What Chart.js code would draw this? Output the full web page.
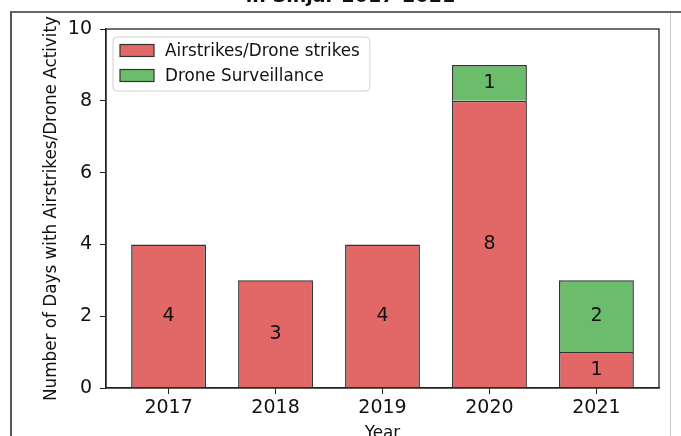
<!DOCTYPE html>
<html>
<head>
<meta charset="utf-8">
<script src="https://cdn.jsdelivr.net/npm/chart.js@4"></script>
<style>
  html, body { margin: 0; padding: 0; background: #fff; }
  #wrap { position: relative; width: 681px; height: 436px; overflow: hidden; background: #fff; }
  #wrap canvas { position: absolute; left: 0; top: -20px; }
  #frame { position: absolute; left: 10px; top: 11px; right: 0; bottom: 0;
           border-top: 2px solid #666; border-left: 2px solid #555; pointer-events: none; }
  #edge { position: absolute; left: 670px; top: 13px; bottom: 0; width: 1px; background: #ccc; pointer-events: none; }
</style>
</head>
<body>
<div id="wrap">
  <canvas id="chart" width="681" height="470"></canvas>
  <div id="frame"></div>
  <div id="edge"></div>
</div>
<script>
// data
const years = ['2017', '2018', '2019', '2020', '2021'];
const airstrikes = [4, 3, 4, 8, 1];
const surveillance = [0, 0, 0, 1, 2];
const yTicks = [0, 2, 4, 6, 8, 10];

const FONT = "'DejaVu Sans', sans-serif";
const RED = '#e26868';
const GREEN = '#6bbc6b';
const EDGE = '#333333';

// bar segment values in the middle of each block
const valueLabels = {
    id: 'valueLabels',
    afterDatasetsDraw(chart) {
        const ctx = chart.ctx;
        ctx.save();
        ctx.font = '19px ' + FONT;
        ctx.fillStyle = '#111';
        ctx.textAlign = 'center';
        ctx.textBaseline = 'middle';
        chart.data.datasets.forEach((ds, di) => {
            chart.getDatasetMeta(di).data.forEach((bar, i) => {
                const v = ds.data[i].y;
                if (!v) return;
                ctx.fillText(String(v), bar.x, (bar.y + bar.base) / 2);
            });
        });
        ctx.restore();
    }
};

// full box round the plot + matplotlib style legend
const frameLegend = {
    id: 'frameLegend',
    afterDraw(chart) {
        const ctx = chart.ctx;
        const a = chart.chartArea;
        ctx.save();
        ctx.strokeStyle = '#222';
        ctx.lineWidth = 1.3;
        ctx.strokeRect(a.left, a.top, a.right - a.left, a.bottom - a.top);

        ctx.font = '16.8px ' + FONT;
        const labels = chart.data.datasets.map(d => d.label);
        const tw = Math.max(...labels.map(t => ctx.measureText(t).width));
        const bx = a.left + 7, by = a.top + 8;
        const bw = 54 + tw + 8, bh = 54;
        ctx.beginPath();
        ctx.roundRect(bx, by, bw, bh, 4);
        ctx.fillStyle = 'rgba(255,255,255,0.8)';
        ctx.fill();
        ctx.strokeStyle = '#d0d0d0';
        ctx.lineWidth = 1;
        ctx.stroke();

        ctx.textBaseline = 'middle';
        chart.data.datasets.forEach((ds, i) => {
            const cy = by + 13.5 + i * 25;
            ctx.fillStyle = ds.backgroundColor;
            ctx.fillRect(bx + 7, cy - 6, 34, 12);
            ctx.strokeStyle = ds.borderColor;
            ctx.lineWidth = 1.2;
            ctx.strokeRect(bx + 7, cy - 6, 34, 12);
            ctx.fillStyle = '#111';
            ctx.fillText(ds.label, bx + 52, cy + 1);
        });
        ctx.restore();
    }
};

new Chart(document.getElementById('chart'), {
    type: 'bar',
    data: {
        datasets: [
            {
                label: 'Airstrikes/Drone strikes',
                data: airstrikes.map((v, i) => ({ x: i, y: v })),
                backgroundColor: RED,
                borderColor: EDGE,
                borderWidth: 1.5
            },
            {
                label: 'Drone Surveillance',
                data: surveillance.map((v, i) => ({ x: i, y: v })),
                backgroundColor: GREEN,
                borderColor: EDGE,
                borderWidth: 1.5
            }
        ]
    },
    options: {
        responsive: false,
        animation: false,
        categoryPercentage: 1,
        barPercentage: 0.7,
        layout: { padding: { top: 5.6, left: 42, right: 22, bottom: 0 } },
        plugins: {
            legend: { display: false },
            tooltip: { enabled: false },
            title: {
                display: true,
                text: 'in Sinjar 2017-2021',
                color: '#111',
                font: { family: FONT, size: 19, weight: 'bold' },
                padding: { top: 0, bottom: 20.6 }
            }
        },
        scales: {
            x: {
                type: 'linear',
                stacked: true,
                offset: false,
                min: -0.585,
                max: 4.585,
                afterBuildTicks: s => { s.ticks = years.map((_, i) => ({ value: i })); },
                afterFit: s => { s.height = 62; },
                ticks: {
                    callback: v => years[v],
                    color: '#111',
                    font: { family: FONT, size: 19 },
                    padding: 3,
                    maxRotation: 0
                },
                grid: { offset: false, drawOnChartArea: false, drawTicks: true, tickLength: 6, color: '#222' },
                border: { display: true, color: '#222', width: 1.3 },
                title: {
                    display: true,
                    text: 'Year',
                    color: '#111',
                    font: { family: FONT, size: 16.8 },
                    padding: { top: 0, bottom: 6.5 }
                }
            },
            y: {
                stacked: true,
                min: 0,
                max: 10,
                afterBuildTicks: s => { s.ticks = yTicks.map(v => ({ value: v })); },
                afterFit: s => { s.width = 64; },
                ticks: {
                    color: '#111',
                    font: { family: FONT, size: 19 },
                    padding: 8
                },
                grid: { drawOnChartArea: false, drawTicks: true, tickLength: 6, color: '#222' },
                border: { display: true, color: '#222', width: 1.3 },
                title: {
                    display: true,
                    text: 'Number of Days with Airstrikes/Drone Activity',
                    color: '#111',
                    font: { family: FONT, size: 16.8 },
                    padding: { top: 0, bottom: 0 }
                }
            }
        }
    },
    plugins: [valueLabels, frameLegend]
});
</script>
</body>
</html>
